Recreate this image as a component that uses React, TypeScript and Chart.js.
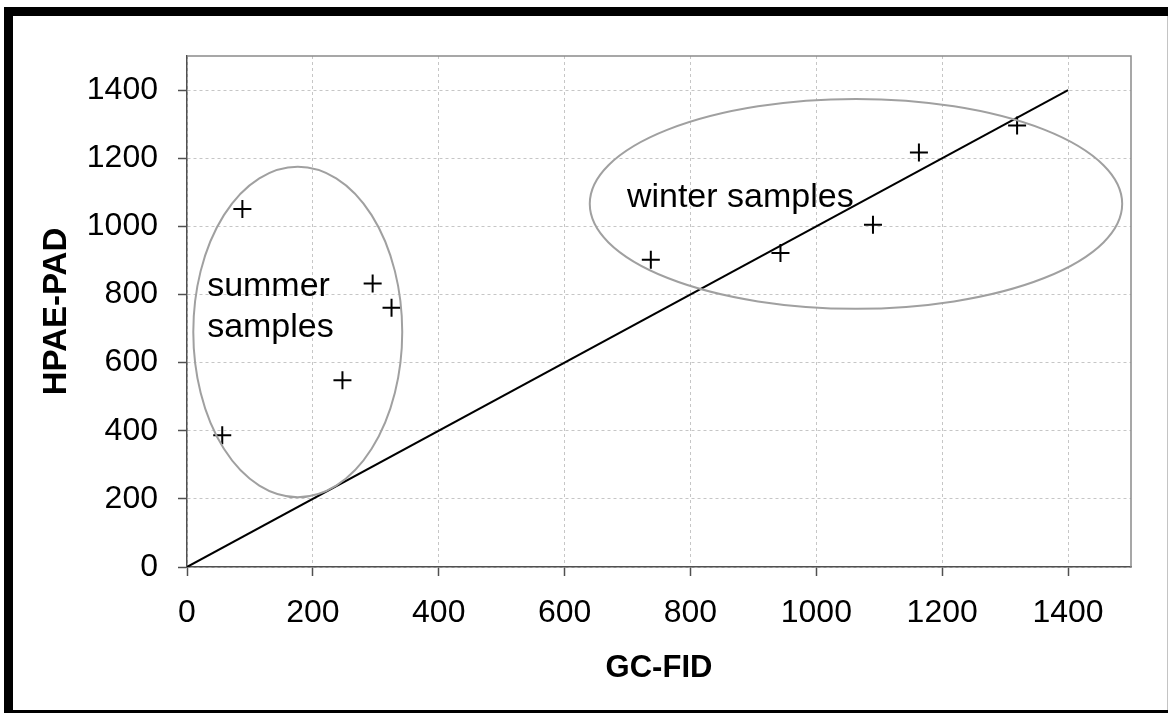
import { useEffect, useRef } from "react";
import { Chart, registerables } from "chart.js";

Chart.register(...registerables);

// Sample measurements: GC-FID (x) against HPAE-PAD (y)
const summerGC = [56, 88, 295, 325, 247];
const summerHPAE = [387, 1051, 832, 761, 548];
const winterGC = [737, 943, 1090, 1163, 1319];
const winterHPAE = [902, 922, 1005, 1217, 1296];

// 1:1 reference line
const identityGC = [0, 1400];
const identityHPAE = [0, 1400];

// Axis ticks
const tickValues = [0, 200, 400, 600, 800, 1000, 1200, 1400];
const axisMax = 1500;

// Group outlines (data units) and their captions
const groupLines = [["summer", "samples"], ["winter samples"]];
const groupCenterGC = [176, 1063];
const groupCenterHPAE = [690, 1066];
const groupRadiusGC = [166, 423];
const groupRadiusHPAE = [485, 308];
const captionGC = [32, 699];
const captionHPAE = [796, 1057];

const FONT = "'Liberation Sans', Arial, sans-serif";

const toPoints = (xs: number[], ys: number[]) => xs.map((x, i) => ({ x, y: ys[i] }));

const pagePlugin = {
  id: "page",
  beforeDraw(chart: any) {
    const { ctx, width, height } = chart;
    ctx.save();
    ctx.fillStyle = "#fff";
    ctx.fillRect(0, 0, width, height);
    ctx.restore();
  },
  beforeDatasetsDraw(chart: any) {
    const { ctx, chartArea: a } = chart;
    ctx.save();
    ctx.strokeStyle = "#8a8a8a";
    ctx.lineWidth = 1.5;
    ctx.beginPath();
    ctx.moveTo(a.left, a.top);
    ctx.lineTo(a.right, a.top);
    ctx.lineTo(a.right, a.bottom);
    ctx.stroke();
    ctx.restore();
  },
  afterDatasetsDraw(chart: any) {
    const { ctx } = chart;
    const xs = chart.scales.x;
    const ys = chart.scales.y;
    ctx.save();
    ctx.strokeStyle = "#a0a0a0";
    ctx.lineWidth = 2;
    groupLines.forEach((lines, i) => {
      const cx = xs.getPixelForValue(groupCenterGC[i]);
      const cy = ys.getPixelForValue(groupCenterHPAE[i]);
      const rx = Math.abs(xs.getPixelForValue(groupCenterGC[i] + groupRadiusGC[i]) - cx);
      const ry = Math.abs(ys.getPixelForValue(groupCenterHPAE[i] + groupRadiusHPAE[i]) - cy);
      ctx.beginPath();
      ctx.ellipse(cx, cy, rx, ry, 0, 0, Math.PI * 2);
      ctx.stroke();
    });
    ctx.fillStyle = "#000";
    ctx.font = `34px ${FONT}`;
    ctx.textAlign = "left";
    ctx.textBaseline = "alphabetic";
    groupLines.forEach((lines, i) => {
      const tx = xs.getPixelForValue(captionGC[i]);
      const ty = ys.getPixelForValue(captionHPAE[i]);
      lines.forEach((line, j) => ctx.fillText(line, tx, ty + j * 41));
    });
    ctx.restore();
  },
  afterDraw(chart: any) {
    const { ctx, width, height } = chart;
    ctx.save();
    ctx.fillStyle = "#000";
    ctx.fillRect(4, 7, width - 4, 9);
    ctx.fillRect(4, 7, 9, height - 7);
    ctx.fillRect(4, 710, width - 4, 3);
    ctx.fillStyle = "#c4c4c4";
    ctx.fillRect(width - 1, 16, 1, 694);
    ctx.restore();
  },
};

const axisCommon = (title: string, titlePadding: any, tickPadding: number, size: number) => ({
  type: "linear" as const,
  min: 0,
  max: axisMax,
  afterBuildTicks: (scale: any) => {
    scale.ticks = tickValues.map((v) => ({ value: v }));
  },
  ticks: {
    color: "#000",
    padding: tickPadding,
    font: { family: FONT, size: 32 },
    maxRotation: 0,
    autoSkip: false,
    callback: (v: any) => String(v),
  },
  grid: {
    color: "#c6c6c6",
    lineWidth: 1,
    drawTicks: true,
    tickLength: 9,
    tickColor: "#505050",
    tickWidth: 1.5,
  },
  border: {
    display: true,
    color: "#505050",
    width: 1.5,
    dash: [3, 3],
  },
  title: {
    display: true,
    text: title,
    color: "#000",
    font: { family: FONT, size, weight: "bold" as const },
    padding: titlePadding,
  },
});

export default function App() {
  const ref = useRef<HTMLCanvasElement>(null);

  useEffect(() => {
    const canvas = ref.current;
    if (!canvas) return;
    const xAxis: any = axisCommon("GC-FID", { top: 0, bottom: 26 }, 18, 31);
    xAxis.position = "bottom";
    xAxis.afterFit = (scale: any) => {
      scale.height = 146;
    };
    const yAxis: any = axisCommon("HPAE-PAD", { top: 37, bottom: 0 }, 20, 33);
    yAxis.position = "left";
    yAxis.afterFit = (scale: any) => {
      scale.width = 187;
    };

    const pointStyle = {
      pointStyle: "cross" as const,
      pointRadius: 9,
      pointHoverRadius: 9,
      borderColor: "#000",
      backgroundColor: "#000",
      borderWidth: 2,
      showLine: false,
    };

    const chart = new Chart(canvas, {
      type: "scatter",
      data: {
        datasets: [
          {
            label: "identity",
            data: toPoints(identityGC, identityHPAE),
            showLine: true,
            borderColor: "#000",
            borderWidth: 2,
            pointRadius: 0,
            pointHoverRadius: 0,
          },
          { label: "summer samples", data: toPoints(summerGC, summerHPAE), ...pointStyle },
          { label: "winter samples", data: toPoints(winterGC, winterHPAE), ...pointStyle },
        ],
      },
      options: {
        animation: false,
        responsive: false,
        devicePixelRatio: 1,
        layout: { padding: { top: 56, right: 37, bottom: 0, left: 0 } },
        plugins: {
          legend: { display: false },
          tooltip: { enabled: false },
        },
        scales: { x: xAxis, y: yAxis },
      },
      plugins: [pagePlugin],
    });
    return () => chart.destroy();
  }, []);

  return (
    <div style={{ position: "fixed", left: 0, top: 0, width: 1168, height: 713, background: "#fff" }}>
      <canvas ref={ref} width={1168} height={713} style={{ display: "block", width: 1168, height: 713 }} />
    </div>
  );
}
